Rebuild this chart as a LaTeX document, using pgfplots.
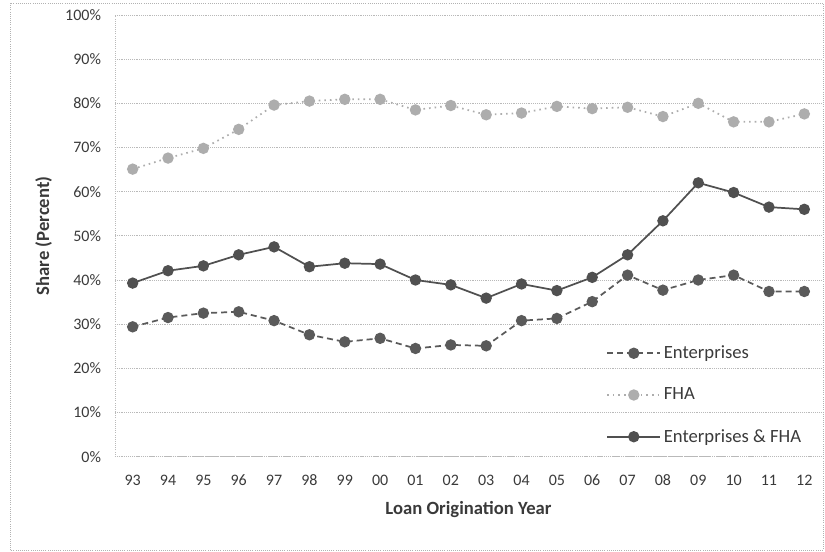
\documentclass[border=0pt]{standalone}
\usepackage{pgfplots}
\pgfplotsset{compat=1.18}
\usepackage{fontspec}
\setmainfont{Carlito}
\definecolor{entc}{HTML}{5A5A5A}
\definecolor{fhac}{HTML}{ADADAD}
\definecolor{bothc}{HTML}{505050}
\definecolor{txtc}{HTML}{3A3A3A}
\begin{document}
\begin{tikzpicture}
\begin{axis}[
  scale only axis,
  width=530.25pt, height=331.3pt,
  xmin=-0.5, xmax=19.5, ymin=0, ymax=100,
  xtick={0,...,19},
  xticklabels={93,94,95,96,97,98,99,00,01,02,03,04,05,06,07,08,09,10,11,12},
  ytick={0,10,...,100},
  yticklabels={0\%,10\%,20\%,30\%,40\%,50\%,60\%,70\%,80\%,90\%,100\%},
  ymajorgrids,
  grid style={densely dotted, gray!55, line width=0.6pt},
  axis lines*=left,
  axis line style={densely dotted, gray!55, line width=0.6pt},
  major tick length=0pt,
  tick label style={font=\fontsize{12}{14}\selectfont, text=txtc},
  yticklabel style={xshift=-7pt},
  xticklabel style={yshift=-10pt},
  xlabel={\textbf{Loan Origination Year}},
  ylabel={\textbf{Share (Percent)}},
  label style={font=\fontsize{14}{16}\selectfont, text=txtc},
  xlabel style={yshift=-5pt},
  ylabel style={yshift=3pt},
  legend style={at={(0.695,0.257)}, anchor=north west, draw=none, fill=none,
    font=\fontsize{14}{16}\selectfont, text=txtc,
    row sep=16.5pt, inner sep=0pt, outer sep=0pt},
  legend cell align=left,
  legend image code/.code={\draw[mark repeat=2,mark phase=2] plot coordinates {(0cm,0cm) (0.7cm,0cm) (1.4cm,0cm)};},
]
\addplot[color=entc, line width=1.3pt, dash pattern=on 4.5pt off 3pt, mark=*, mark size=3.6pt, mark options={solid, fill=entc}]
coordinates {(0,29.4) (1,31.5) (2,32.5) (3,32.8) (4,30.8) (5,27.6) (6,26.0) (7,26.8) (8,24.5) (9,25.3) (10,25.1) (11,30.8) (12,31.3) (13,35.1) (14,41.1) (15,37.7) (16,40.0) (17,41.1) (18,37.4) (19,37.4)};
\addlegendentry{Enterprises}
\addplot[color=fhac, line width=1.3pt, dash pattern=on 1.2pt off 3pt, mark=*, mark size=3.6pt, mark options={solid, fill=fhac}]
coordinates {(0,65.1) (1,67.6) (2,69.8) (3,74.1) (4,79.6) (5,80.5) (6,80.9) (7,80.9) (8,78.5) (9,79.5) (10,77.4) (11,77.8) (12,79.3) (13,78.8) (14,79.1) (15,77.0) (16,80.0) (17,75.8) (18,75.8) (19,77.6)};
\addlegendentry{FHA}
\addplot[color=bothc, line width=1.3pt, solid, mark=*, mark size=3.6pt, mark options={solid, fill=bothc}]
coordinates {(0,39.3) (1,42.1) (2,43.2) (3,45.7) (4,47.5) (5,43.0) (6,43.8) (7,43.6) (8,40.0) (9,38.9) (10,35.9) (11,39.1) (12,37.6) (13,40.6) (14,45.7) (15,53.4) (16,62.0) (17,59.8) (18,56.5) (19,56.0)};
\addlegendentry{Enterprises \& FHA}
\end{axis}
\begin{scope}[x=0.75pt, y=0.75pt]
\draw[gray!60, densely dotted, line width=0.6pt] (-105,-93.3) rectangle (708,453.7);
\path (-115,-95.3) rectangle (710,456.7);
\end{scope}
\end{tikzpicture}
\end{document}
